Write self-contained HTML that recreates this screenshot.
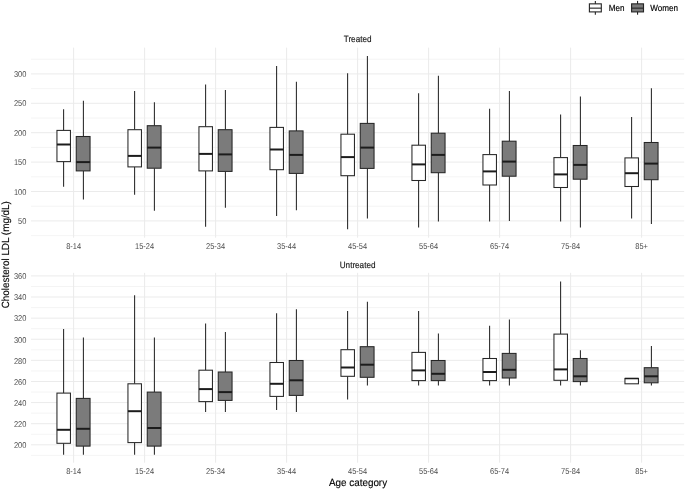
<!DOCTYPE html>
<html><head><meta charset="utf-8"><title>Cholesterol LDL by age category</title>
<style>
html,body{margin:0;padding:0;background:#fff;}
body{width:685px;height:490px;position:relative;overflow:hidden;font-family:"Liberation Sans",sans-serif;}
</style></head><body>
<svg width="685" height="490" viewBox="0 0 685 490" style="position:absolute;left:0;top:0;text-rendering:geometricPrecision;filter:grayscale(1);will-change:transform">
<rect width="685" height="490" fill="#fff"/>
<g stroke="#ebebeb" fill="none">
<line x1="31.0" x2="684.2" y1="235.60" y2="235.60" stroke-width="0.55"/>
<line x1="31.0" x2="684.2" y1="206.20" y2="206.20" stroke-width="0.55"/>
<line x1="31.0" x2="684.2" y1="176.80" y2="176.80" stroke-width="0.55"/>
<line x1="31.0" x2="684.2" y1="147.40" y2="147.40" stroke-width="0.55"/>
<line x1="31.0" x2="684.2" y1="118.00" y2="118.00" stroke-width="0.55"/>
<line x1="31.0" x2="684.2" y1="88.60" y2="88.60" stroke-width="0.55"/>
<line x1="31.0" x2="684.2" y1="59.20" y2="59.20" stroke-width="0.55"/>
<line x1="31.0" x2="684.2" y1="220.90" y2="220.90" stroke-width="1.0"/>
<line x1="31.0" x2="684.2" y1="191.50" y2="191.50" stroke-width="1.0"/>
<line x1="31.0" x2="684.2" y1="162.10" y2="162.10" stroke-width="1.0"/>
<line x1="31.0" x2="684.2" y1="132.70" y2="132.70" stroke-width="1.0"/>
<line x1="31.0" x2="684.2" y1="103.30" y2="103.30" stroke-width="1.0"/>
<line x1="31.0" x2="684.2" y1="73.90" y2="73.90" stroke-width="1.0"/>
<line x1="73.60" x2="73.60" y1="47.6" y2="237.7" stroke-width="1.0"/>
<line x1="144.60" x2="144.60" y1="47.6" y2="237.7" stroke-width="1.0"/>
<line x1="215.60" x2="215.60" y1="47.6" y2="237.7" stroke-width="1.0"/>
<line x1="286.60" x2="286.60" y1="47.6" y2="237.7" stroke-width="1.0"/>
<line x1="357.60" x2="357.60" y1="47.6" y2="237.7" stroke-width="1.0"/>
<line x1="428.60" x2="428.60" y1="47.6" y2="237.7" stroke-width="1.0"/>
<line x1="499.60" x2="499.60" y1="47.6" y2="237.7" stroke-width="1.0"/>
<line x1="570.60" x2="570.60" y1="47.6" y2="237.7" stroke-width="1.0"/>
<line x1="641.60" x2="641.60" y1="47.6" y2="237.7" stroke-width="1.0"/>
</g>
<g stroke="#ebebeb" fill="none">
<line x1="31.0" x2="684.2" y1="455.36" y2="455.36" stroke-width="0.55"/>
<line x1="31.0" x2="684.2" y1="434.24" y2="434.24" stroke-width="0.55"/>
<line x1="31.0" x2="684.2" y1="413.13" y2="413.13" stroke-width="0.55"/>
<line x1="31.0" x2="684.2" y1="392.02" y2="392.02" stroke-width="0.55"/>
<line x1="31.0" x2="684.2" y1="370.91" y2="370.91" stroke-width="0.55"/>
<line x1="31.0" x2="684.2" y1="349.80" y2="349.80" stroke-width="0.55"/>
<line x1="31.0" x2="684.2" y1="328.68" y2="328.68" stroke-width="0.55"/>
<line x1="31.0" x2="684.2" y1="307.57" y2="307.57" stroke-width="0.55"/>
<line x1="31.0" x2="684.2" y1="286.46" y2="286.46" stroke-width="0.55"/>
<line x1="31.0" x2="684.2" y1="444.80" y2="444.80" stroke-width="1.0"/>
<line x1="31.0" x2="684.2" y1="423.69" y2="423.69" stroke-width="1.0"/>
<line x1="31.0" x2="684.2" y1="402.58" y2="402.58" stroke-width="1.0"/>
<line x1="31.0" x2="684.2" y1="381.46" y2="381.46" stroke-width="1.0"/>
<line x1="31.0" x2="684.2" y1="360.35" y2="360.35" stroke-width="1.0"/>
<line x1="31.0" x2="684.2" y1="339.24" y2="339.24" stroke-width="1.0"/>
<line x1="31.0" x2="684.2" y1="318.13" y2="318.13" stroke-width="1.0"/>
<line x1="31.0" x2="684.2" y1="297.02" y2="297.02" stroke-width="1.0"/>
<line x1="31.0" x2="684.2" y1="275.90" y2="275.90" stroke-width="1.0"/>
<line x1="73.60" x2="73.60" y1="272.8" y2="462.7" stroke-width="1.0"/>
<line x1="144.60" x2="144.60" y1="272.8" y2="462.7" stroke-width="1.0"/>
<line x1="215.60" x2="215.60" y1="272.8" y2="462.7" stroke-width="1.0"/>
<line x1="286.60" x2="286.60" y1="272.8" y2="462.7" stroke-width="1.0"/>
<line x1="357.60" x2="357.60" y1="272.8" y2="462.7" stroke-width="1.0"/>
<line x1="428.60" x2="428.60" y1="272.8" y2="462.7" stroke-width="1.0"/>
<line x1="499.60" x2="499.60" y1="272.8" y2="462.7" stroke-width="1.0"/>
<line x1="570.60" x2="570.60" y1="272.8" y2="462.7" stroke-width="1.0"/>
<line x1="641.60" x2="641.60" y1="272.8" y2="462.7" stroke-width="1.0"/>
</g>
<g stroke="#262626" stroke-width="1.05" fill="none">
<line x1="63.60" x2="63.60" y1="109.30" y2="130.40"/>
<line x1="63.60" x2="63.60" y1="161.60" y2="186.70"/>
<rect x="56.95" y="130.40" width="13.50" height="31.20" fill="#ffffff"/>
<line x1="56.95" x2="70.45" y1="144.50" y2="144.50" stroke="#1c1c1c" stroke-width="1.99"/>
</g>
<g stroke="#262626" stroke-width="1.05" fill="none">
<line x1="83.40" x2="83.40" y1="100.80" y2="136.50"/>
<line x1="83.40" x2="83.40" y1="170.90" y2="199.50"/>
<rect x="76.25" y="136.50" width="13.80" height="34.40" fill="#7b7b7b"/>
<line x1="76.25" x2="90.05" y1="162.10" y2="162.10" stroke="#1c1c1c" stroke-width="1.99"/>
</g>
<g stroke="#262626" stroke-width="1.05" fill="none">
<line x1="63.60" x2="63.60" y1="329.10" y2="393.10"/>
<line x1="63.60" x2="63.60" y1="443.30" y2="454.70"/>
<rect x="56.95" y="393.10" width="13.50" height="50.20" fill="#ffffff"/>
<line x1="56.95" x2="70.45" y1="429.80" y2="429.80" stroke="#1c1c1c" stroke-width="1.99"/>
</g>
<g stroke="#262626" stroke-width="1.05" fill="none">
<line x1="83.40" x2="83.40" y1="337.40" y2="398.40"/>
<line x1="83.40" x2="83.40" y1="446.10" y2="454.70"/>
<rect x="76.25" y="398.40" width="13.80" height="47.70" fill="#7b7b7b"/>
<line x1="76.25" x2="90.05" y1="428.80" y2="428.80" stroke="#1c1c1c" stroke-width="1.99"/>
</g>
<g stroke="#262626" stroke-width="1.05" fill="none">
<line x1="134.60" x2="134.60" y1="91.00" y2="129.70"/>
<line x1="134.60" x2="134.60" y1="166.90" y2="194.80"/>
<rect x="127.95" y="129.70" width="13.50" height="37.20" fill="#ffffff"/>
<line x1="127.95" x2="141.45" y1="155.90" y2="155.90" stroke="#1c1c1c" stroke-width="1.99"/>
</g>
<g stroke="#262626" stroke-width="1.05" fill="none">
<line x1="154.40" x2="154.40" y1="102.30" y2="125.70"/>
<line x1="154.40" x2="154.40" y1="168.20" y2="210.80"/>
<rect x="147.25" y="125.70" width="13.80" height="42.50" fill="#7b7b7b"/>
<line x1="147.25" x2="161.05" y1="147.60" y2="147.60" stroke="#1c1c1c" stroke-width="1.99"/>
</g>
<g stroke="#262626" stroke-width="1.05" fill="none">
<line x1="134.60" x2="134.60" y1="295.20" y2="383.80"/>
<line x1="134.60" x2="134.60" y1="442.60" y2="454.70"/>
<rect x="127.95" y="383.80" width="13.50" height="58.80" fill="#ffffff"/>
<line x1="127.95" x2="141.45" y1="411.20" y2="411.20" stroke="#1c1c1c" stroke-width="1.99"/>
</g>
<g stroke="#262626" stroke-width="1.05" fill="none">
<line x1="154.40" x2="154.40" y1="337.40" y2="392.10"/>
<line x1="154.40" x2="154.40" y1="446.10" y2="454.70"/>
<rect x="147.25" y="392.10" width="13.80" height="54.00" fill="#7b7b7b"/>
<line x1="147.25" x2="161.05" y1="428.00" y2="428.00" stroke="#1c1c1c" stroke-width="1.99"/>
</g>
<g stroke="#262626" stroke-width="1.05" fill="none">
<line x1="205.60" x2="205.60" y1="84.50" y2="126.70"/>
<line x1="205.60" x2="205.60" y1="170.90" y2="226.70"/>
<rect x="198.95" y="126.70" width="13.50" height="44.20" fill="#ffffff"/>
<line x1="198.95" x2="212.45" y1="153.90" y2="153.90" stroke="#1c1c1c" stroke-width="1.99"/>
</g>
<g stroke="#262626" stroke-width="1.05" fill="none">
<line x1="225.40" x2="225.40" y1="90.00" y2="129.70"/>
<line x1="225.40" x2="225.40" y1="171.40" y2="207.80"/>
<rect x="218.25" y="129.70" width="13.80" height="41.70" fill="#7b7b7b"/>
<line x1="218.25" x2="232.05" y1="154.40" y2="154.40" stroke="#1c1c1c" stroke-width="1.99"/>
</g>
<g stroke="#262626" stroke-width="1.05" fill="none">
<line x1="205.60" x2="205.60" y1="323.60" y2="370.20"/>
<line x1="205.60" x2="205.60" y1="401.60" y2="412.00"/>
<rect x="198.95" y="370.20" width="13.50" height="31.40" fill="#ffffff"/>
<line x1="198.95" x2="212.45" y1="389.10" y2="389.10" stroke="#1c1c1c" stroke-width="1.99"/>
</g>
<g stroke="#262626" stroke-width="1.05" fill="none">
<line x1="225.40" x2="225.40" y1="332.10" y2="372.00"/>
<line x1="225.40" x2="225.40" y1="400.40" y2="412.00"/>
<rect x="218.25" y="372.00" width="13.80" height="28.40" fill="#7b7b7b"/>
<line x1="218.25" x2="232.05" y1="392.10" y2="392.10" stroke="#1c1c1c" stroke-width="1.99"/>
</g>
<g stroke="#262626" stroke-width="1.05" fill="none">
<line x1="276.60" x2="276.60" y1="65.90" y2="127.40"/>
<line x1="276.60" x2="276.60" y1="169.70" y2="216.10"/>
<rect x="269.95" y="127.40" width="13.50" height="42.30" fill="#ffffff"/>
<line x1="269.95" x2="283.45" y1="149.50" y2="149.50" stroke="#1c1c1c" stroke-width="1.99"/>
</g>
<g stroke="#262626" stroke-width="1.05" fill="none">
<line x1="296.40" x2="296.40" y1="81.70" y2="130.90"/>
<line x1="296.40" x2="296.40" y1="173.40" y2="210.30"/>
<rect x="289.25" y="130.90" width="13.80" height="42.50" fill="#7b7b7b"/>
<line x1="289.25" x2="303.05" y1="154.90" y2="154.90" stroke="#1c1c1c" stroke-width="1.99"/>
</g>
<g stroke="#262626" stroke-width="1.05" fill="none">
<line x1="276.60" x2="276.60" y1="313.30" y2="362.50"/>
<line x1="276.60" x2="276.60" y1="396.40" y2="410.00"/>
<rect x="269.95" y="362.50" width="13.50" height="33.90" fill="#ffffff"/>
<line x1="269.95" x2="283.45" y1="383.80" y2="383.80" stroke="#1c1c1c" stroke-width="1.99"/>
</g>
<g stroke="#262626" stroke-width="1.05" fill="none">
<line x1="296.40" x2="296.40" y1="309.30" y2="360.50"/>
<line x1="296.40" x2="296.40" y1="395.40" y2="412.00"/>
<rect x="289.25" y="360.50" width="13.80" height="34.90" fill="#7b7b7b"/>
<line x1="289.25" x2="303.05" y1="380.30" y2="380.30" stroke="#1c1c1c" stroke-width="1.99"/>
</g>
<g stroke="#262626" stroke-width="1.05" fill="none">
<line x1="347.60" x2="347.60" y1="73.20" y2="134.20"/>
<line x1="347.60" x2="347.60" y1="175.70" y2="229.20"/>
<rect x="340.95" y="134.20" width="13.50" height="41.50" fill="#ffffff"/>
<line x1="340.95" x2="354.45" y1="157.10" y2="157.10" stroke="#1c1c1c" stroke-width="1.99"/>
</g>
<g stroke="#262626" stroke-width="1.05" fill="none">
<line x1="367.40" x2="367.40" y1="56.10" y2="123.40"/>
<line x1="367.40" x2="367.40" y1="168.40" y2="218.40"/>
<rect x="360.25" y="123.40" width="13.80" height="45.00" fill="#7b7b7b"/>
<line x1="360.25" x2="374.05" y1="147.60" y2="147.60" stroke="#1c1c1c" stroke-width="1.99"/>
</g>
<g stroke="#262626" stroke-width="1.05" fill="none">
<line x1="347.60" x2="347.60" y1="311.00" y2="349.70"/>
<line x1="347.60" x2="347.60" y1="376.30" y2="399.40"/>
<rect x="340.95" y="349.70" width="13.50" height="26.60" fill="#ffffff"/>
<line x1="340.95" x2="354.45" y1="367.50" y2="367.50" stroke="#1c1c1c" stroke-width="1.99"/>
</g>
<g stroke="#262626" stroke-width="1.05" fill="none">
<line x1="367.40" x2="367.40" y1="301.70" y2="346.70"/>
<line x1="367.40" x2="367.40" y1="377.30" y2="385.60"/>
<rect x="360.25" y="346.70" width="13.80" height="30.60" fill="#7b7b7b"/>
<line x1="360.25" x2="374.05" y1="364.70" y2="364.70" stroke="#1c1c1c" stroke-width="1.99"/>
</g>
<g stroke="#262626" stroke-width="1.05" fill="none">
<line x1="418.60" x2="418.60" y1="93.30" y2="145.20"/>
<line x1="418.60" x2="418.60" y1="180.50" y2="227.40"/>
<rect x="411.95" y="145.20" width="13.50" height="35.30" fill="#ffffff"/>
<line x1="411.95" x2="425.45" y1="164.40" y2="164.40" stroke="#1c1c1c" stroke-width="1.99"/>
</g>
<g stroke="#262626" stroke-width="1.05" fill="none">
<line x1="438.40" x2="438.40" y1="75.70" y2="133.20"/>
<line x1="438.40" x2="438.40" y1="172.70" y2="221.60"/>
<rect x="431.25" y="133.20" width="13.80" height="39.50" fill="#7b7b7b"/>
<line x1="431.25" x2="445.05" y1="154.90" y2="154.90" stroke="#1c1c1c" stroke-width="1.99"/>
</g>
<g stroke="#262626" stroke-width="1.05" fill="none">
<line x1="418.60" x2="418.60" y1="311.00" y2="352.40"/>
<line x1="418.60" x2="418.60" y1="380.60" y2="385.60"/>
<rect x="411.95" y="352.40" width="13.50" height="28.20" fill="#ffffff"/>
<line x1="411.95" x2="425.45" y1="370.40" y2="370.40" stroke="#1c1c1c" stroke-width="1.99"/>
</g>
<g stroke="#262626" stroke-width="1.05" fill="none">
<line x1="438.40" x2="438.40" y1="333.40" y2="360.50"/>
<line x1="438.40" x2="438.40" y1="380.60" y2="385.60"/>
<rect x="431.25" y="360.50" width="13.80" height="20.10" fill="#7b7b7b"/>
<line x1="431.25" x2="445.05" y1="373.80" y2="373.80" stroke="#1c1c1c" stroke-width="1.99"/>
</g>
<g stroke="#262626" stroke-width="1.05" fill="none">
<line x1="489.60" x2="489.60" y1="108.80" y2="154.60"/>
<line x1="489.60" x2="489.60" y1="185.00" y2="221.40"/>
<rect x="482.95" y="154.60" width="13.50" height="30.40" fill="#ffffff"/>
<line x1="482.95" x2="496.45" y1="171.40" y2="171.40" stroke="#1c1c1c" stroke-width="1.99"/>
</g>
<g stroke="#262626" stroke-width="1.05" fill="none">
<line x1="509.40" x2="509.40" y1="91.00" y2="141.20"/>
<line x1="509.40" x2="509.40" y1="176.20" y2="220.90"/>
<rect x="502.25" y="141.20" width="13.80" height="35.00" fill="#7b7b7b"/>
<line x1="502.25" x2="516.05" y1="161.60" y2="161.60" stroke="#1c1c1c" stroke-width="1.99"/>
</g>
<g stroke="#262626" stroke-width="1.05" fill="none">
<line x1="489.60" x2="489.60" y1="325.80" y2="358.50"/>
<line x1="489.60" x2="489.60" y1="380.60" y2="385.60"/>
<rect x="482.95" y="358.50" width="13.50" height="22.10" fill="#ffffff"/>
<line x1="482.95" x2="496.45" y1="372.00" y2="372.00" stroke="#1c1c1c" stroke-width="1.99"/>
</g>
<g stroke="#262626" stroke-width="1.05" fill="none">
<line x1="509.40" x2="509.40" y1="319.50" y2="353.40"/>
<line x1="509.40" x2="509.40" y1="378.00" y2="385.60"/>
<rect x="502.25" y="353.40" width="13.80" height="24.60" fill="#7b7b7b"/>
<line x1="502.25" x2="516.05" y1="369.80" y2="369.80" stroke="#1c1c1c" stroke-width="1.99"/>
</g>
<g stroke="#262626" stroke-width="1.05" fill="none">
<line x1="560.60" x2="560.60" y1="114.60" y2="157.60"/>
<line x1="560.60" x2="560.60" y1="187.50" y2="221.40"/>
<rect x="553.95" y="157.60" width="13.50" height="29.90" fill="#ffffff"/>
<line x1="553.95" x2="567.45" y1="174.40" y2="174.40" stroke="#1c1c1c" stroke-width="1.99"/>
</g>
<g stroke="#262626" stroke-width="1.05" fill="none">
<line x1="580.40" x2="580.40" y1="96.50" y2="145.50"/>
<line x1="580.40" x2="580.40" y1="179.20" y2="227.40"/>
<rect x="573.25" y="145.50" width="13.80" height="33.70" fill="#7b7b7b"/>
<line x1="573.25" x2="587.05" y1="164.90" y2="164.90" stroke="#1c1c1c" stroke-width="1.99"/>
</g>
<g stroke="#262626" stroke-width="1.05" fill="none">
<line x1="560.60" x2="560.60" y1="281.40" y2="334.10"/>
<line x1="560.60" x2="560.60" y1="380.30" y2="385.60"/>
<rect x="553.95" y="334.10" width="13.50" height="46.20" fill="#ffffff"/>
<line x1="553.95" x2="567.45" y1="369.40" y2="369.40" stroke="#1c1c1c" stroke-width="1.99"/>
</g>
<g stroke="#262626" stroke-width="1.05" fill="none">
<line x1="580.40" x2="580.40" y1="350.20" y2="358.50"/>
<line x1="580.40" x2="580.40" y1="381.60" y2="385.60"/>
<rect x="573.25" y="358.50" width="13.80" height="23.10" fill="#7b7b7b"/>
<line x1="573.25" x2="587.05" y1="376.30" y2="376.30" stroke="#1c1c1c" stroke-width="1.99"/>
</g>
<g stroke="#262626" stroke-width="1.05" fill="none">
<line x1="631.60" x2="631.60" y1="117.10" y2="157.90"/>
<line x1="631.60" x2="631.60" y1="186.50" y2="218.60"/>
<rect x="624.95" y="157.90" width="13.50" height="28.60" fill="#ffffff"/>
<line x1="624.95" x2="638.45" y1="173.20" y2="173.20" stroke="#1c1c1c" stroke-width="1.99"/>
</g>
<g stroke="#262626" stroke-width="1.05" fill="none">
<line x1="651.40" x2="651.40" y1="88.20" y2="142.50"/>
<line x1="651.40" x2="651.40" y1="179.70" y2="223.90"/>
<rect x="644.25" y="142.50" width="13.80" height="37.20" fill="#7b7b7b"/>
<line x1="644.25" x2="658.05" y1="163.60" y2="163.60" stroke="#1c1c1c" stroke-width="1.99"/>
</g>
<g stroke="#262626" stroke-width="1.05" fill="none">
<rect x="624.95" y="378.40" width="13.50" height="5.40" fill="#ffffff"/>
<line x1="624.95" x2="638.45" y1="378.55" y2="378.55" stroke="#1c1c1c" stroke-width="1.45"/>
</g>
<g stroke="#262626" stroke-width="1.05" fill="none">
<line x1="651.40" x2="651.40" y1="345.90" y2="367.70"/>
<line x1="651.40" x2="651.40" y1="382.80" y2="385.60"/>
<rect x="644.25" y="367.70" width="13.80" height="15.10" fill="#7b7b7b"/>
<line x1="644.25" x2="658.05" y1="376.30" y2="376.30" stroke="#1c1c1c" stroke-width="1.99"/>
</g>
<g stroke="#262626" stroke-width="1.12" fill="none">
<line x1="595.35" x2="595.35" y1="0.9" y2="14.7"/>
<rect x="589.40" y="3.85" width="11.9" height="8.05" fill="#fff"/>
<line x1="589.40" x2="601.30" y1="8.15" y2="8.15"/></g>
<g stroke="#262626" stroke-width="1.12" fill="none">
<line x1="637.55" x2="637.55" y1="0.9" y2="14.7"/>
<rect x="631.60" y="3.85" width="11.9" height="8.05" fill="#7b7b7b"/>
<line x1="631.60" x2="643.50" y1="8.15" y2="8.15"/></g>
<g font-family="Liberation Sans, sans-serif" font-size="7.7" fill="#4d4d4d" text-anchor="end">
<text transform="translate(26.40,223.90) scale(0.97,1.1)">50</text>
<text transform="translate(26.40,194.50) scale(0.97,1.1)">100</text>
<text transform="translate(26.40,165.10) scale(0.97,1.1)">150</text>
<text transform="translate(26.40,135.70) scale(0.97,1.1)">200</text>
<text transform="translate(26.40,106.30) scale(0.97,1.1)">250</text>
<text transform="translate(26.40,76.90) scale(0.97,1.1)">300</text>
<text transform="translate(26.40,448.10) scale(0.97,1.1)">200</text>
<text transform="translate(26.40,426.99) scale(0.97,1.1)">220</text>
<text transform="translate(26.40,405.88) scale(0.97,1.1)">240</text>
<text transform="translate(26.40,384.76) scale(0.97,1.1)">260</text>
<text transform="translate(26.40,363.65) scale(0.97,1.1)">280</text>
<text transform="translate(26.40,342.54) scale(0.97,1.1)">300</text>
<text transform="translate(26.40,321.43) scale(0.97,1.1)">320</text>
<text transform="translate(26.40,300.32) scale(0.97,1.1)">340</text>
<text transform="translate(26.40,279.20) scale(0.97,1.1)">360</text>
</g>
<g font-family="Liberation Sans, sans-serif" font-size="7.7" fill="#4d4d4d" text-anchor="middle">
<text transform="translate(73.60,248.60) scale(0.97,1.1)">8-14</text>
<text transform="translate(73.60,473.50) scale(0.97,1.1)">8-14</text>
<text transform="translate(144.60,248.60) scale(0.97,1.1)">15-24</text>
<text transform="translate(144.60,473.50) scale(0.97,1.1)">15-24</text>
<text transform="translate(215.60,248.60) scale(0.97,1.1)">25-34</text>
<text transform="translate(215.60,473.50) scale(0.97,1.1)">25-34</text>
<text transform="translate(286.60,248.60) scale(0.97,1.1)">35-44</text>
<text transform="translate(286.60,473.50) scale(0.97,1.1)">35-44</text>
<text transform="translate(357.60,248.60) scale(0.97,1.1)">45-54</text>
<text transform="translate(357.60,473.50) scale(0.97,1.1)">45-54</text>
<text transform="translate(428.60,248.60) scale(0.97,1.1)">55-64</text>
<text transform="translate(428.60,473.50) scale(0.97,1.1)">55-64</text>
<text transform="translate(499.60,248.60) scale(0.97,1.1)">65-74</text>
<text transform="translate(499.60,473.50) scale(0.97,1.1)">65-74</text>
<text transform="translate(570.60,248.60) scale(0.97,1.1)">75-84</text>
<text transform="translate(570.60,473.50) scale(0.97,1.1)">75-84</text>
<text transform="translate(641.60,248.60) scale(0.97,1.1)">85+</text>
<text transform="translate(641.60,473.50) scale(0.97,1.1)">85+</text>
</g>
<g font-family="Liberation Sans, sans-serif" font-size="8.15" fill="#1a1a1a" stroke="#1a1a1a" stroke-width="0.15" text-anchor="middle">
<text transform="translate(357.60,41.90) scale(1.0,1.1)">Treated</text>
<text transform="translate(357.60,267.50) scale(1.0,1.1)">Untreated</text>
</g>
<g font-family="Liberation Sans, sans-serif" font-size="8.1" fill="#000" stroke="#000" stroke-width="0.15">
<text transform="translate(608.70,10.90) scale(1.0,1.1)">Men</text>
<text transform="translate(650.20,10.90) scale(1.0,1.1)">Women</text>
</g>
<g font-family="Liberation Sans, sans-serif" font-size="9.9" fill="#000" stroke="#000" stroke-width="0.12" text-anchor="middle">
<text transform="translate(358,485.5) scale(1,1.05)">Age category</text>
<text transform="translate(8.75,254.7) rotate(-90) scale(1,1.05)">Cholesterol LDL (mg/dL)</text>
</g>
</svg>
</body></html>
